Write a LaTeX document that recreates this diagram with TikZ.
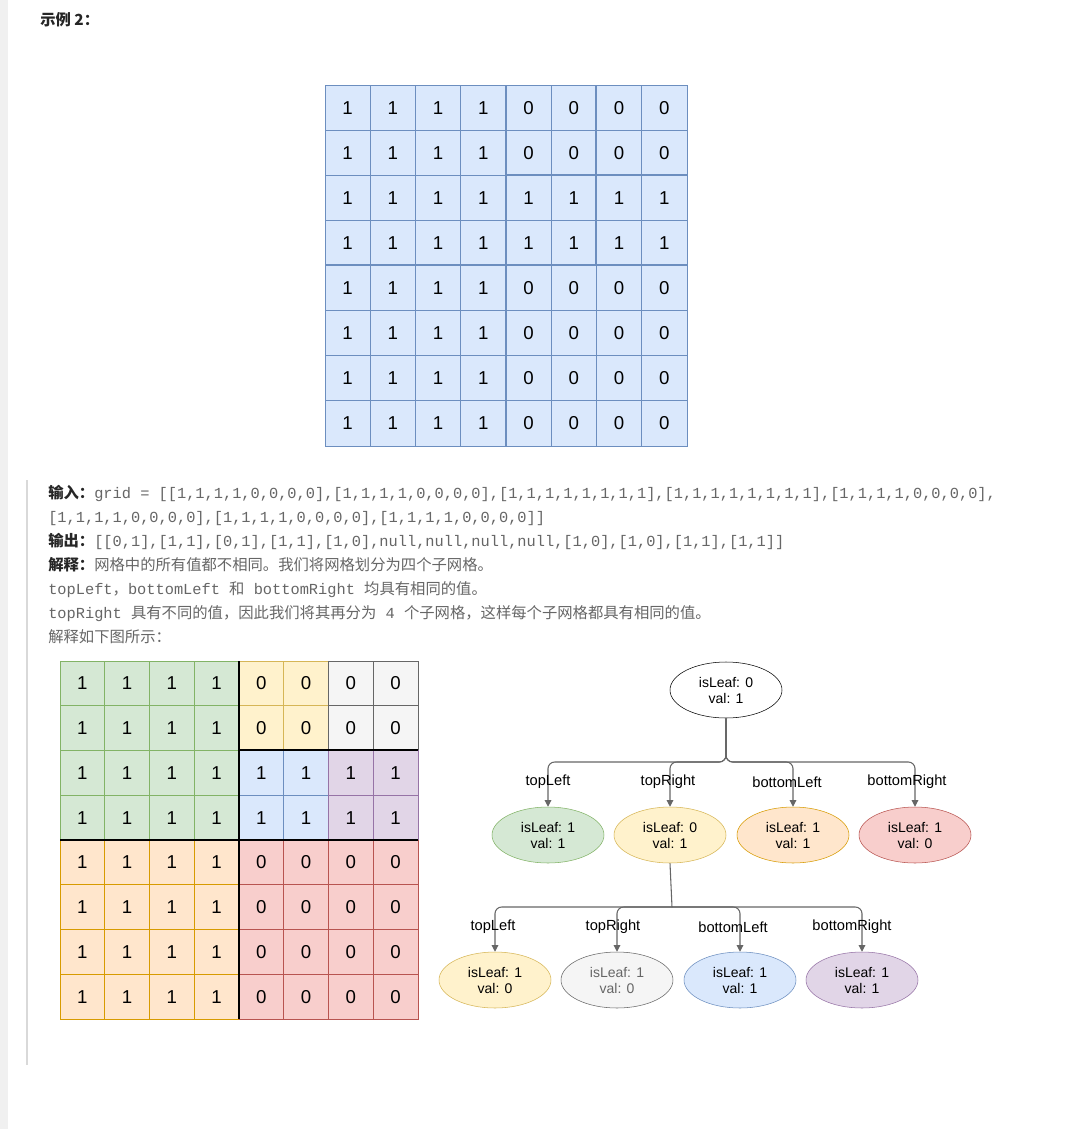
\documentclass[tikz,border=0pt]{standalone}
\usepackage{fontspec}
\setmainfont{Liberation Sans}
\setmonofont{Liberation Mono}
\newfontfamily\cjk{Noto Sans CJK SC}
\usetikzlibrary{shapes.geometric,arrows.meta}
\definecolor{bF}{HTML}{DAE8FC}\definecolor{bS}{HTML}{6C8EBF}
\definecolor{gF}{HTML}{D5E8D4}\definecolor{gS}{HTML}{82B366}
\definecolor{yF}{HTML}{FFF2CC}\definecolor{yS}{HTML}{D6B656}
\definecolor{wF}{HTML}{F5F5F5}\definecolor{wS}{HTML}{666666}
\definecolor{pF}{HTML}{E1D5E7}\definecolor{pS}{HTML}{9673A6}
\definecolor{oF}{HTML}{FFE6CC}\definecolor{oS}{HTML}{D79B00}
\definecolor{rF}{HTML}{F8CECC}\definecolor{rS}{HTML}{B85450}
\definecolor{txt}{HTML}{666666}
\begin{document}
\begin{tikzpicture}[x=0.75pt,y=-0.75pt,
  num/.style={font=\fontsize{14}{16}\selectfont},
  ell/.style={ellipse,draw,minimum width=112\pgflinewidth*0+84pt,minimum height=42pt,align=center,font=\fontsize{10.5}{12}\selectfont,inner sep=0pt},
  edge/.style={draw=txt,line width=0.8pt,-{Triangle[width=5pt,length=5pt]},rounded corners=5pt},
  lab/.style={font=\fontsize{11}{13}\selectfont,fill=white,fill opacity=0,text opacity=1},
  tl/.style={anchor=base west,font=\fontsize{11.5}{14}\selectfont,text=txt,inner sep=0pt}]
\useasboundingbox (0,0) rectangle (1086,1129);
\fill[white] (0,0) rectangle (1086,1129);
\fill[black!6] (0,0) rectangle (8,1129);
\draw[black!15,line width=1pt] (27,480) -- (27,1065);
\node[anchor=base west,inner sep=0pt,font=\cjk\bfseries\fontsize{11.5}{14}\selectfont,text=black!85] (title) at (40,25) {示例 2：};
% top grid
\foreach \r [count=\i from 0] in {{1,1,1,1,0,0,0,0},{1,1,1,1,0,0,0,0},{1,1,1,1,1,1,1,1},{1,1,1,1,1,1,1,1},{1,1,1,1,0,0,0,0},{1,1,1,1,0,0,0,0},{1,1,1,1,0,0,0,0},{1,1,1,1,0,0,0,0}}{
  \foreach \v [count=\j from 0] in \r {
    \draw[fill=bF,draw=bS,line width=0.7pt] (325+\j*45.25,85+\i*45.125) rectangle ++(45.25,45.125);
    \node[num] at (325+\j*45.25+22.6,85+\i*45.125+22.6) {\v};
  }}
\draw[bS,line width=1.6pt] (506,85) -- (506,446) (325,265) -- (687,265) (596,85) -- (596,265) (506,175) -- (687,175);
% text
\node[tl] (l1) at (48,498) {{\cjk\bfseries\color{black!85}输入：}\ttfamily grid = [[1,1,1,1,0,0,0,0],[1,1,1,1,0,0,0,0],[1,1,1,1,1,1,1,1],[1,1,1,1,1,1,1,1],[1,1,1,1,0,0,0,0],};
\node[tl] (l2) at (48,522) {\ttfamily [1,1,1,1,0,0,0,0],[1,1,1,1,0,0,0,0],[1,1,1,1,0,0,0,0]]};
\node[tl] (l3) at (48,546) {{\cjk\bfseries\color{black!85}输出：}\ttfamily [[0,1],[1,1],[0,1],[1,1],[1,0],null,null,null,null,[1,0],[1,0],[1,1],[1,1]]};
\node[tl] (l4) at (48,570) {{\cjk\bfseries\color{black!85}解释：}\cjk 网格中的所有值都不相同。我们将网格划分为四个子网格。};
\node[tl] (l5) at (48,594) {\ttfamily topLeft{\cjk ，}bottomLeft {\cjk 和} bottomRight {\cjk 均具有相同的值。}};
\node[tl] (l6) at (48,618) {\ttfamily topRight {\cjk 具有不同的值，因此我们将其再分为} 4 {\cjk 个子网格，这样每个子网格都具有相同的值。}};
\node[tl] (l7) at (48,642) {\cjk 解释如下图所示：};
% bottom grid
\def\cw{44.75}
\foreach \r [count=\i from 0] in {{1,1,1,1,0,0,0,0},{1,1,1,1,0,0,0,0},{1,1,1,1,1,1,1,1},{1,1,1,1,1,1,1,1},{1,1,1,1,0,0,0,0},{1,1,1,1,0,0,0,0},{1,1,1,1,0,0,0,0},{1,1,1,1,0,0,0,0}}{
  \foreach \v [count=\j from 0] in \r {
    \pgfmathsetmacro\q{\i<4 ? (\j<4 ? 0 : (\i<2 ? (\j<6 ? 1 : 2) : (\j<6 ? 3 : 4))) : (\j<4 ? 5 : 6)}
    \ifcase\q\relax \def\cf{gF}\def\cs{gS}\or \def\cf{yF}\def\cs{yS}\or \def\cf{wF}\def\cs{wS}\or \def\cf{bF}\def\cs{bS}\or \def\cf{pF}\def\cs{pS}\or \def\cf{oF}\def\cs{oS}\else \def\cf{rF}\def\cs{rS}\fi
    \draw[fill=\cf,draw=\cs,line width=0.7pt] (60+\j*\cw,661+\i*\cw) rectangle ++(\cw,\cw);
    \node[num] at (60+\j*\cw+22.4,661+\i*\cw+22.4) {\v};
  }}
\draw[black,line width=1.6pt] (239,661) -- (239,1019) (60,840) -- (418,840) (239,750) -- (418,750);
% tree
\node[ell,fill=white] (root) at (726,690) {isLeaf: 0\\val: 1};
\node[ell,fill=gF,draw=gS] (a1) at (548,835) {isLeaf: 1\\val: 1};
\node[ell,fill=yF,draw=yS] (a2) at (670,835) {isLeaf: 0\\val: 1};
\node[ell,fill=oF,draw=oS] (a3) at (793,835) {isLeaf: 1\\val: 1};
\node[ell,fill=rF,draw=rS] (a4) at (915,835) {isLeaf: 1\\val: 0};
\node[ell,fill=yF,draw=yS] (b1) at (495,980) {isLeaf: 1\\val: 0};
\node[ell,fill=wF,draw=wS,text=txt] (b2) at (617,980) {isLeaf: 1\\val: 0};
\node[ell,fill=bF,draw=bS] (b3) at (740,980) {isLeaf: 1\\val: 1};
\node[ell,fill=pF,draw=pS] (b4) at (862,980) {isLeaf: 1\\val: 1};
\foreach \c in {a1,a2,a3,a4}{\draw[edge] (root.south) -- (726,762) -| (\c.north);}
\draw[edge,-] (a2.south) -- (672,907);
\foreach \c in {b1,b2,b3,b4}{\draw[edge] (672,907) -| (\c.north);}
\node[lab] (t1) at (548,782) {topLeft};
\node[lab] (t2) at (668,782) {topRight};
\node[lab] (t3) at (787,782) {bottomLeft};
\node[lab] (t4) at (907,782) {bottomRight};
\node[lab] (u1) at (493,927) {topLeft};
\node[lab] (u2) at (613,927) {topRight};
\node[lab] (u3) at (733,927) {bottomLeft};
\node[lab] (u4) at (852,927) {bottomRight};
\end{tikzpicture}
\end{document}
